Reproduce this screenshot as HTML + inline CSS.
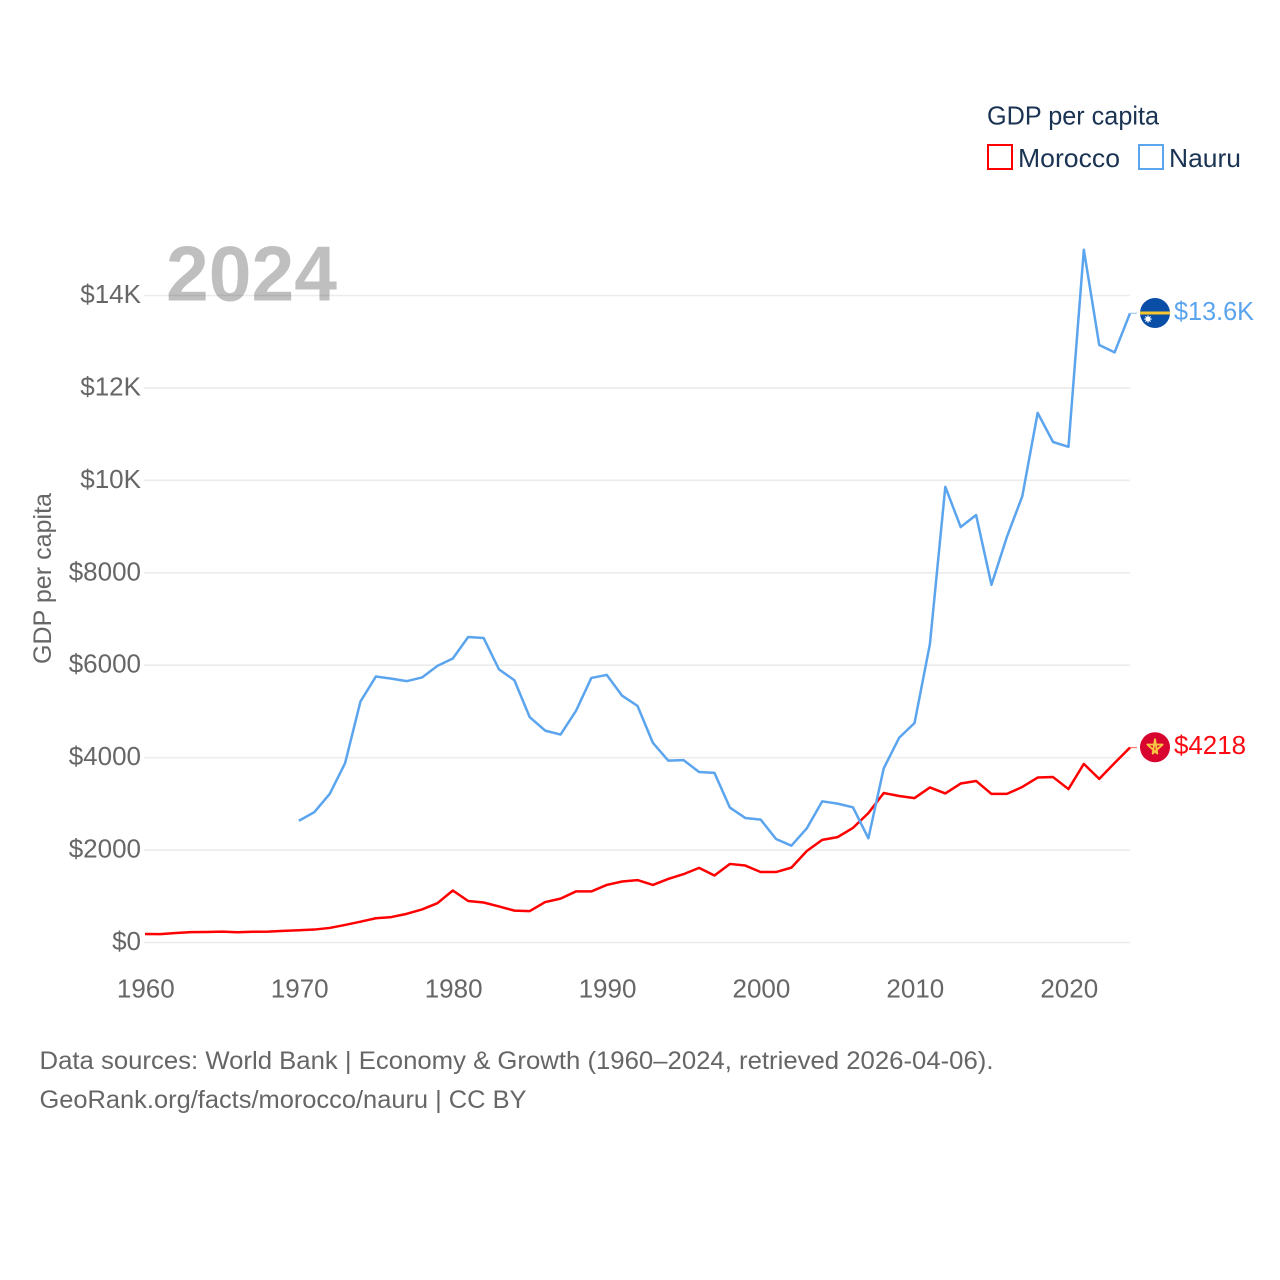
<!DOCTYPE html>
<html lang="en">
<head>
<meta charset="utf-8">
<title>GDP per capita: Morocco and Nauru</title>
<style>
  html, body { margin: 0; padding: 0; background: #fff; }
  #chart { display: block; width: 1280px; height: 1280px; }
  text { font-family: "Liberation Sans", "DejaVu Sans", sans-serif; }
</style>
</head>
<body>
<svg id="chart" xmlns="http://www.w3.org/2000/svg" width="1280" height="1280" viewBox="0 0 1280 1280">
  <rect x="0" y="0" width="1280" height="1280" fill="#ffffff"/>
  <g id="grid"></g>
  <text x="166" y="300.5" font-size="78" font-weight="700" fill="#000" fill-opacity="0.25" textLength="171" lengthAdjust="spacingAndGlyphs">2024</text>
  <g id="y-ticks"></g>
  <g id="x-ticks"></g>
  <text transform="translate(51 578.5) rotate(-90)" text-anchor="middle" font-size="25" fill="#666666" textLength="171" lengthAdjust="spacingAndGlyphs">GDP per capita</text>
  <g id="series"></g>

  <g id="end-markers">
    <defs>
      <clipPath id="nauru-clip"><circle cx="1155" cy="0" r="15"/></clipPath>
    </defs>
    <g id="flag-nauru">
      <g clip-path="url(#nauru-clip)">
        <rect x="1140" y="-15" width="30" height="30" fill="#0b4ea8"/>
        <rect x="1140" y="-1.5" width="30" height="3" fill="#f7c62f"/>
        <circle cx="1148" cy="6" r="2.6" fill="#ffffff"/>
        <path d="M1148 2V10M1144 6H1152M1145.2 3.2L1150.8 8.8M1145.2 8.8L1150.8 3.2" stroke="#ffffff" stroke-width="0.7"/>
      </g>
    </g>
    <g id="flag-morocco">
      <circle cx="1155" cy="0" r="15" fill="#d8062f"/>
      <path d="M1155 -8L1157.3 6.3L1147.4 -2.7H1162.6L1152.7 6.3Z" fill="none" stroke="#f7c642" stroke-width="1.9" stroke-linejoin="round"/>
    </g>
  </g>
  <text id="label-nauru" x="1174" font-size="26" fill="#5ba4ee" textLength="80" lengthAdjust="spacingAndGlyphs">$13.6K</text>
  <text id="label-morocco" x="1174" font-size="26" fill="#fb0a12" textLength="72" lengthAdjust="spacingAndGlyphs">$4218</text>

  <g>
    <text x="987" y="124.5" font-size="26" fill="#1a3352" textLength="172" lengthAdjust="spacingAndGlyphs">GDP per capita</text>
    <g>
      <rect x="988" y="145" width="24" height="24" fill="none" stroke="#ff0000" stroke-width="2"/>
      <text x="1018" y="167" font-size="26" fill="#1a3352" textLength="102" lengthAdjust="spacingAndGlyphs">Morocco</text>
    </g>
    <g>
      <rect x="1139" y="145" width="24" height="24" fill="none" stroke="#5ba4ee" stroke-width="2"/>
      <text x="1169" y="167" font-size="26" fill="#1a3352" textLength="72" lengthAdjust="spacingAndGlyphs">Nauru</text>
    </g>
  </g>

  <text x="39.5" y="1069" font-size="25" fill="#666666" textLength="954" lengthAdjust="spacingAndGlyphs">Data sources: World Bank | Economy &amp; Growth (1960–2024, retrieved 2026-04-06).</text>
  <text x="39.5" y="1108" font-size="25" fill="#666666" textLength="487" lengthAdjust="spacingAndGlyphs">GeoRank.org/facts/morocco/nauru | CC BY</text>
</svg>

<script>
const yTickValues = [0, 2000, 4000, 6000, 8000, 10000, 12000, 14000];
const yTickLabels = ["$0", "$2000", "$4000", "$6000", "$8000", "$10K", "$12K", "$14K"];
const xTickYears = [1960, 1970, 1980, 1990, 2000, 2010, 2020];
const xTickLabels = ["1960", "1970", "1980", "1990", "2000", "2010", "2020"];

const moroccoStartYear = 1960;
const moroccoValues = [
  184, 180, 205, 225, 228, 235, 222, 232, 236, 252,
  266, 280, 315, 380, 450, 525, 550, 620, 715, 850,
  1125, 898, 865, 780, 690, 680, 875, 950, 1105, 1105,
  1245, 1320, 1350, 1245, 1375, 1480, 1615, 1450, 1700, 1665,
  1525, 1525, 1620, 1980, 2220, 2280, 2480, 2800, 3235, 3170,
  3125, 3355, 3225, 3440, 3495, 3215, 3215, 3365, 3570, 3580,
  3320, 3865, 3540, 3885, 4218
];

const nauruStartYear = 1970;
const nauruValues = [
  2635, 2820, 3215, 3880, 5215, 5755, 5710, 5655, 5735, 5985,
  6145, 6610, 6590, 5910, 5675, 4875, 4585, 4500, 5010, 5725,
  5790, 5340, 5120, 4320, 3935, 3945, 3690, 3670, 2920, 2695,
  2660, 2240, 2095, 2470, 3055, 3005, 2925, 2255, 3770, 4430,
  4750, 6460, 9860, 8990, 9250, 7740, 8775, 9655, 11460, 10830,
  10725, 14990, 12930, 12770, 13615
];

const SVG_NS = "http://www.w3.org/2000/svg";
const xScale = year => 145 + (year - 1960) * (1130 - 145) / (2024 - 1960);
const yScale = value => 942.5 - value * (942.5 - 295.5) / 14000;

const gridGroup = document.getElementById("grid");
const yTickGroup = document.getElementById("y-ticks");
const xTickGroup = document.getElementById("x-ticks");
const seriesGroup = document.getElementById("series");

yTickValues.forEach((value, i) => {
  const line = document.createElementNS(SVG_NS, "line");
  
  
  line.setAttribute("x1", 144);
  line.setAttribute("x2", 1130);
  line.setAttribute("y1", yScale(value));
  line.setAttribute("y2", yScale(value));
  line.setAttribute("stroke", "#ececec");
  line.setAttribute("stroke-width", 1.6);
  gridGroup.appendChild(line);

  const label = document.createElementNS(SVG_NS, "text");
  
  
  label.setAttribute("x", 141);
  label.setAttribute("y", yScale(value) + 7.5);
  label.setAttribute("text-anchor", "end");
  label.setAttribute("font-size", 26);
  label.setAttribute("fill", "#666666");
  label.textContent = yTickLabels[i];
  yTickGroup.appendChild(label);
});

xTickYears.forEach((year, i) => {
  const label = document.createElementNS(SVG_NS, "text");
  
  
  label.setAttribute("x", xScale(year) + 0.8);
  label.setAttribute("y", 997.5);
  label.setAttribute("text-anchor", "middle");
  label.setAttribute("font-size", 26);
  label.setAttribute("fill", "#666666");
  label.textContent = xTickLabels[i];
  xTickGroup.appendChild(label);
});

function linePoints(startYear, values) {
  return values.map((v, i) => xScale(startYear + i).toFixed(2) + "," + yScale(v).toFixed(2)).join(" ");
}

const moroccoLine = document.createElementNS(SVG_NS, "polyline");


moroccoLine.setAttribute("points", linePoints(moroccoStartYear, moroccoValues));
moroccoLine.setAttribute("fill", "none");
moroccoLine.setAttribute("stroke", "#ff0000");
moroccoLine.setAttribute("stroke-width", 2.5);
moroccoLine.setAttribute("stroke-linejoin", "round");
seriesGroup.appendChild(moroccoLine);

const nauruLine = document.createElementNS(SVG_NS, "polyline");


nauruLine.setAttribute("points", linePoints(nauruStartYear, nauruValues));
nauruLine.setAttribute("fill", "none");
nauruLine.setAttribute("stroke", "#5ba4ee");
nauruLine.setAttribute("stroke-width", 2.5);
nauruLine.setAttribute("stroke-linejoin", "round");
seriesGroup.appendChild(nauruLine);

const moroccoLast = moroccoValues[moroccoValues.length - 1];
const nauruLast = nauruValues[nauruValues.length - 1];

const moroccoStub = document.createElementNS(SVG_NS, "line");


moroccoStub.setAttribute("x1", xScale(2024));
moroccoStub.setAttribute("x2", 1137);
moroccoStub.setAttribute("y1", yScale(moroccoLast));
moroccoStub.setAttribute("y2", yScale(moroccoLast));
moroccoStub.setAttribute("stroke", "#ff0000");
moroccoStub.setAttribute("stroke-opacity", 0.55);
moroccoStub.setAttribute("stroke-width", 1.2);
seriesGroup.appendChild(moroccoStub);

const nauruStub = document.createElementNS(SVG_NS, "line");


nauruStub.setAttribute("x1", xScale(2024));
nauruStub.setAttribute("x2", 1137);
nauruStub.setAttribute("y1", yScale(nauruLast));
nauruStub.setAttribute("y2", yScale(nauruLast));
nauruStub.setAttribute("stroke", "#5ba4ee");
nauruStub.setAttribute("stroke-opacity", 0.55);
nauruStub.setAttribute("stroke-width", 1.2);
seriesGroup.appendChild(nauruStub);

document.getElementById("flag-morocco").setAttribute("transform", "translate(0 " + (yScale(moroccoLast) - 0.3) + ")");
document.getElementById("flag-nauru").setAttribute("transform", "translate(0 " + (yScale(nauruLast) - 0.3) + ")");
document.getElementById("label-morocco").setAttribute("y", yScale(moroccoLast) + 6.5);
document.getElementById("label-nauru").setAttribute("y", yScale(nauruLast) + 6.5);
</script>
</body>
</html>
